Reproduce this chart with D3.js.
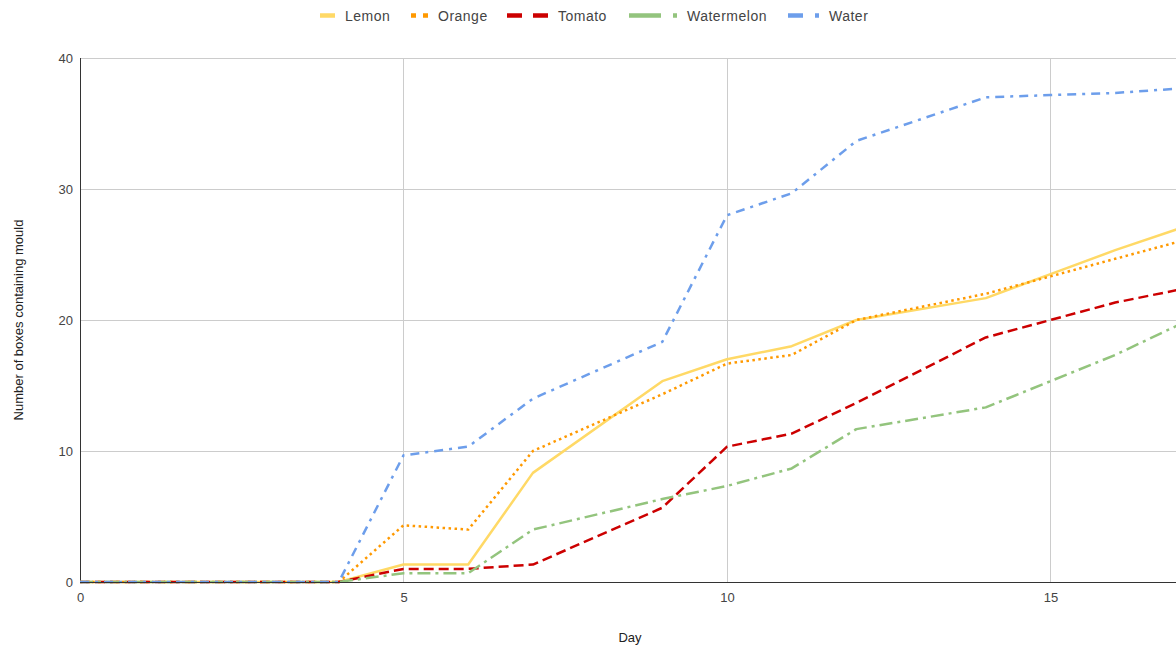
<!DOCTYPE html>
<html><head><meta charset="utf-8">
<script src="https://cdn.jsdelivr.net/npm/d3@7"></script>
<style>body{margin:0;background:#fff;}svg{display:block;font-family:"Liberation Sans",Arial,sans-serif;}</style>
</head><body><svg id="c" width="1176" height="649"></svg>
<script>
const days = [0,1,2,3,4,5,6,7,9,10,11,12,14,15,16,17];
const lemon = [0,0,0,0,0,1.33,1.33,8.33,15.33,17,18,20,21.67,23.5,25.33,27];
const orange = [0,0,0,0,0,4.33,4,10,14.33,16.67,17.33,20,22,23.33,24.67,26];
const tomato = [0,0,0,0,0,1,1,1.33,5.67,10.33,11.33,13.67,18.67,20,21.33,22.33];
const watermelon = [0,0,0,0,0,0.67,0.67,4,6.33,7.33,8.67,11.67,13.33,15.33,17.33,19.67];
const water = [0,0,0,0,0,9.67,10.33,14,18.33,28,29.67,33.67,37,37.17,37.33,37.67];
const seriesNames = ["Lemon","Orange","Tomato","Watermelon","Water"];
const xTicks = [0,5,10,15];
const yTicks = [0,10,20,30,40];

const FONT = '"Liberation Sans",Arial,sans-serif';
const styles = {
  Lemon:{color:"#ffd966",dash:null,legDash:null},
  Orange:{color:"#ff9900",dash:"2.5,3.5",legDash:"5,7"},
  Tomato:{color:"#cc0000",dash:"10,5",legDash:"15,11"},
  Watermelon:{color:"#93c47d",dash:"13,5,3,5",legDash:"32,12,4,12"},
  Water:{color:"#6d9eeb",dash:"9,6,3,6",legDash:"15,12,4,12"}
};
const data = {Lemon:lemon,Orange:orange,Tomato:tomato,Watermelon:watermelon,Water:water};

const svg = d3.select("#c");
const x = d3.scaleLinear().domain([0,17]).range([80, 80+17*64.7]);
const y = d3.scaleLinear().domain([0,40]).range([582,58]);

// grid
svg.append("g").selectAll("line").data(yTicks.filter(d=>d>0)).join("line")
  .attr("x1",80).attr("x2",1176).attr("y1",d=>y(d)).attr("y2",d=>y(d))
  .attr("stroke","#cccccc").attr("stroke-width",1).attr("shape-rendering","crispEdges");
svg.append("g").selectAll("line").data(xTicks.filter(d=>d>0)).join("line")
  .attr("x1",d=>x(d)).attr("x2",d=>x(d)).attr("y1",58).attr("y2",582)
  .attr("stroke","#cccccc").attr("stroke-width",1).attr("shape-rendering","crispEdges");

// axes
const xAxis = d3.axisBottom(x).tickValues(xTicks).tickSize(0).tickPadding(11);
const gx = svg.append("g").attr("transform","translate(0,582)").call(xAxis);
gx.select(".domain").remove();
gx.selectAll("text").attr("font-size",13).attr("fill","#444").attr("font-family",FONT);
const yAxis = d3.axisLeft(y).tickValues(yTicks).tickSize(0).tickPadding(7);
const gy = svg.append("g").attr("transform","translate(80,0)").call(yAxis);
gy.select(".domain").remove();
gy.selectAll("text").attr("font-size",13).attr("fill","#444").attr("font-family",FONT);

svg.append("line").attr("x1",80).attr("x2",80).attr("y1",58).attr("y2",582)
  .attr("stroke","#333").attr("stroke-width",1).attr("shape-rendering","crispEdges");

// lines
const line = d3.line().x((d,i)=>x(days[i])).y(d=>y(d));
const lg = svg.append("g");
seriesNames.forEach(n=>{
  lg.append("path").datum(data[n]).attr("d",line).attr("fill","none")
    .attr("stroke",styles[n].color).attr("stroke-width",2.5)
    .attr("stroke-dasharray",styles[n].dash).attr("stroke-linejoin","round");
});

svg.append("line").attr("x1",80).attr("x2",1176).attr("y1",582.5).attr("y2",582.5)
  .attr("stroke","#333").attr("stroke-width",1.2);

// titles
svg.append("text").attr("x",630).attr("y",642).attr("text-anchor","middle")
  .attr("font-size",13).attr("fill","#222").text("Day");
svg.append("text").attr("transform","translate(23,320) rotate(-90)").attr("text-anchor","middle")
  .attr("font-size",13).attr("fill","#222").text("Number of boxes containing mould");

// legend
const legendPos = [
  {n:"Lemon",sx:320,sw:15,tx:345},
  {n:"Orange",sx:411,sw:17,tx:438},
  {n:"Tomato",sx:507,sw:42,tx:558},
  {n:"Watermelon",sx:629,sw:48,tx:687},
  {n:"Water",sx:788,sw:31,tx:829}
];
const leg = svg.append("g");
legendPos.forEach(p=>{
  const st = styles[p.n];
  leg.append("line").attr("x1",p.sx).attr("x2",p.sx+p.sw).attr("y1",15.5).attr("y2",15.5)
    .attr("stroke",st.color).attr("stroke-width",4.5).attr("stroke-dasharray",st.legDash);
  leg.append("text").attr("x",p.tx).attr("y",21).attr("font-size",14)
    .attr("letter-spacing",0.5).attr("fill","#444").text(p.n);
});
</script></body></html>
